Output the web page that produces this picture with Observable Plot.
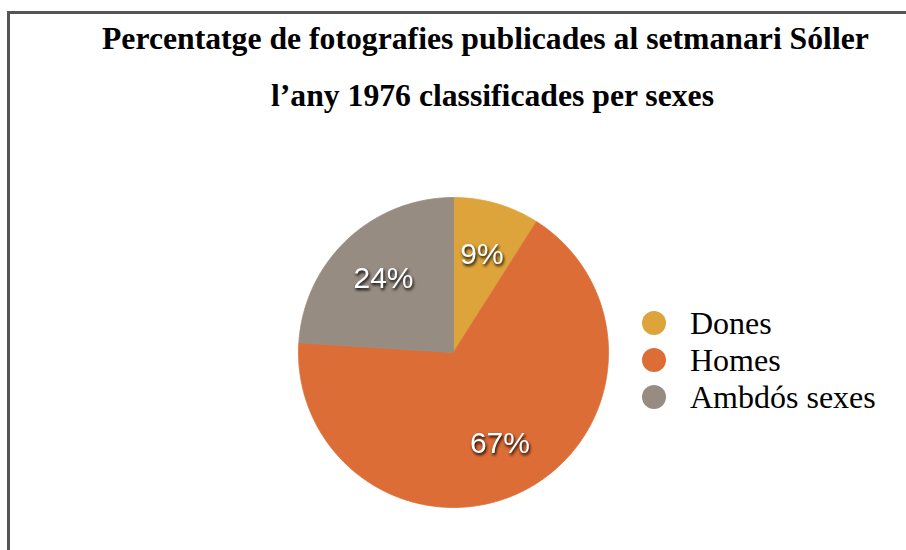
<!DOCTYPE html>
<html>
<head>
<meta charset="utf-8">
<script src="https://cdn.jsdelivr.net/npm/d3@7"></script>
<script src="https://cdn.jsdelivr.net/npm/@observablehq/plot@0.6"></script>
<style>
  html, body { margin: 0; padding: 0; background: #fff; }
  #wrap { position: relative; width: 906px; height: 550px; overflow: hidden; }
  #frame { position: absolute; left: 7px; top: 11px; width: 960px; height: 600px;
           border-left: 3px solid #555; border-top: 3px solid #555; }
  .title { position: absolute; font-family: "Liberation Serif", "Times New Roman", serif;
           font-weight: bold; font-size: 31.7px; line-height: 31.7px; color: #000; white-space: nowrap; }
  #chart { position: absolute; left: 0; top: 0; }
  .leg { position: absolute; left: 642px; font-family: "Liberation Serif", "Times New Roman", serif;
         font-size: 32px; line-height: 32px; color: #000; white-space: nowrap; }
  .leg span.sw { position: absolute; left: 0; top: 4px; width: 24px; height: 24px; border-radius: 50%; }
  .leg span.tx { position: absolute; left: 48px; top: 0; }
  #chart g[aria-label="text"] text { filter: drop-shadow(1.5px 2px 1.5px rgba(0,0,0,1)); }
</style>
</head>
<body>
<div id="wrap">
  <div id="frame"></div>
  <div id="chart"></div>
  <div class="title" id="t1" style="left:102px; top:22.5px;"></div>
  <div class="title" id="t2" style="left:271px; top:79.5px;"></div>
  <div id="legend"></div>
</div>
<script>
const titleLines = ["Percentatge de fotografies publicades al setmanari Sóller", "l’any 1976 classificades per sexes"];
const categories = ["Dones", "Homes", "Ambdós sexes"];
const values = [9, 67, 24];
const labels = ["9%", "67%", "24%"];
const colors = ["#dca43a", "#dd6d37", "#978c82"];

document.getElementById("t1").textContent = titleLines[0];
document.getElementById("t2").textContent = titleLines[1];

const table = categories.map((name, i) => ({name, value: values[i], label: labels[i]}));
const arcs = d3.pie().sort(null).value(d => d.value).startAngle(0).endAngle(2 * Math.PI)(table);

// polygon points for each slice (unit radius, y up)
const pts = [];
for (const a of arcs) {
  const n = Math.max(2, Math.ceil((a.endAngle - a.startAngle) / 0.01));
  pts.push({name: a.data.name, x: 0, y: 0});
  for (let k = 0; k <= n; k++) {
    const t = a.startAngle + (a.endAngle - a.startAngle) * k / n;
    pts.push({name: a.data.name, x: Math.sin(t), y: Math.cos(t)});
  }
  pts.push({name: a.data.name, x: 0, y: 0});
}
const labelRadius = 0.66;
const labelPts = arcs.map(a => {
  const m = (a.startAngle + a.endAngle) / 2;
  return {name: a.data.name, label: a.data.label, x: labelRadius * Math.sin(m), y: labelRadius * Math.cos(m)};
});

const chart = Plot.plot({
  width: 906,
  height: 550,
  margin: 0,
  x: {domain: [-1, 1], range: [298, 608], axis: null},
  y: {domain: [-1, 1], range: [507, 197], axis: null},
  color: {domain: categories, range: colors},
  marks: [
    Plot.line(pts, {x: "x", y: "y", z: "name", fill: "name", stroke: "name", strokeWidth: 0.8}),
    Plot.text(labelPts, {x: "x", y: "y", text: "label", fill: "white", fontSize: 30,
      fontFamily: "Liberation Sans, Arial, Helvetica, sans-serif"})
  ]
});
document.getElementById("chart").appendChild(chart);

const legend = document.getElementById("legend");
categories.forEach((c, i) => {
  const row = document.createElement("div");
  row.className = "leg";
  row.style.top = (307 + i * 37) + "px";
  const sw = document.createElement("span");
  sw.className = "sw";
  sw.style.background = colors[i];
  const tx = document.createElement("span");
  tx.className = "tx";
  tx.textContent = c;
  row.appendChild(sw);
  row.appendChild(tx);
  legend.appendChild(row);
});
</script>
</body>
</html>
